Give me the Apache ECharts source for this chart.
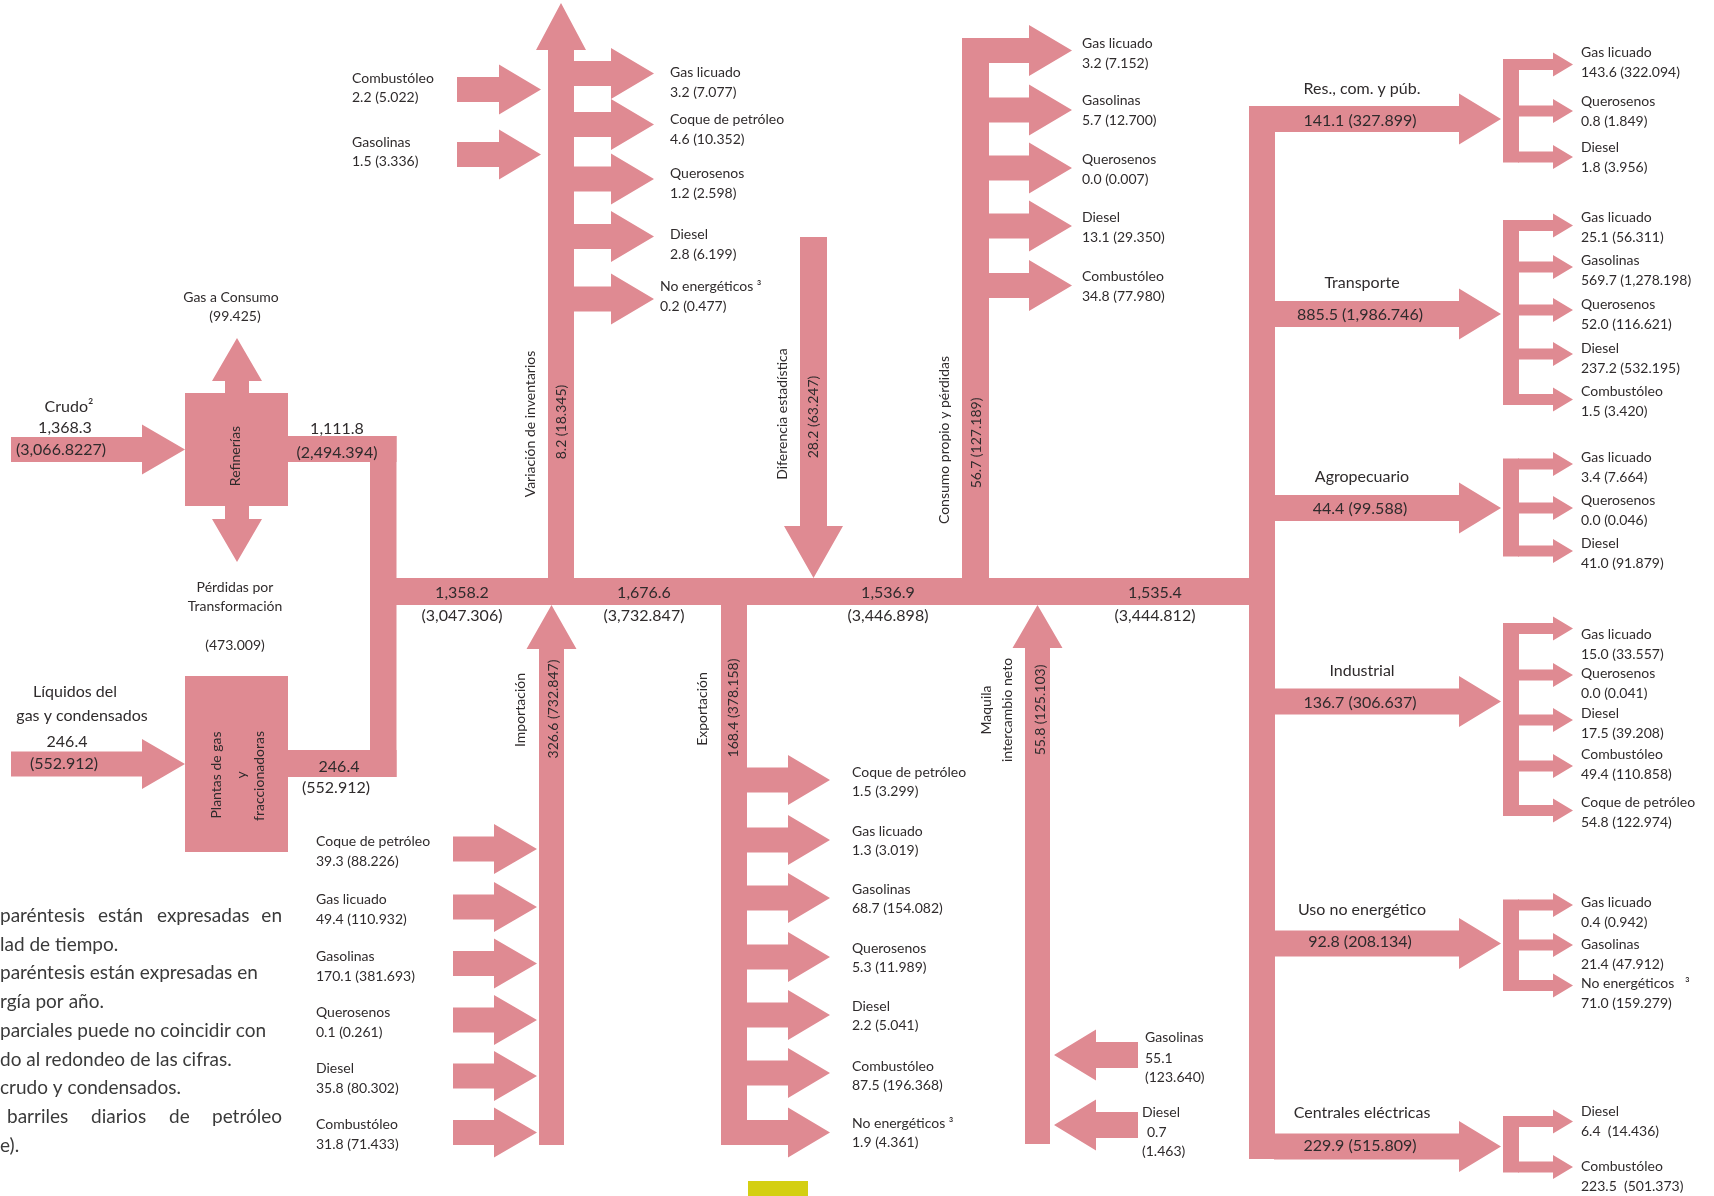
<!DOCTYPE html>
<html>
<head>
<meta charset="utf-8">
<title>Balance de petrolíferos</title>
<script src="https://cdn.jsdelivr.net/npm/echarts@6/dist/echarts.min.js"></script>
<style>
  html, body { margin: 0; padding: 0; background: #fff; }
  #chart { width: 1714px; height: 1196px; }
</style>
</head>
<body>
<div id="chart"></div>
<script>
// flujos: valor en miles de barriles diarios y (petajoules)
const crudoText = ['Crudo²', '1,368.3', '(3,066.8227)']
const liquidosText = ['Líquidos del', 'gas y condensados', '246.4', '(552.912)']
const gasConsumoText = ['Gas a Consumo', '(99.425)']
const perdidasText = ['Pérdidas por', 'Transformación', '(473.009)']
const refineriaOut = ['1,111.8', '(2,494.394)']
const plantasOut = ['246.4', '(552.912)']

const mainBand = [
  ['1,358.2', '(3,047.306)'],
  ['1,676.6', '(3,732.847)'],
  ['1,536.9', '(3,446.898)'],
  ['1,535.4', '(3,444.812)']
]

const varInLabels = ['Combustóleo', 'Gasolinas']
const varInValues = ['2.2 (5.022)', '1.5 (3.336)']
const varOutLabels = ['Gas licuado', 'Coque de petróleo', 'Querosenos', 'Diesel', 'No energéticos ³']
const varOutValues = ['3.2 (7.077)', '4.6 (10.352)', '1.2 (2.598)', '2.8 (6.199)', '0.2 (0.477)']
const consumoLabels = ['Gas licuado', 'Gasolinas', 'Querosenos', 'Diesel', 'Combustóleo']
const consumoValues = ['3.2 (7.152)', '5.7 (12.700)', '0.0 (0.007)', '13.1 (29.350)', '34.8 (77.980)']
const importLabels = ['Coque de petróleo', 'Gas licuado', 'Gasolinas', 'Querosenos', 'Diesel', 'Combustóleo']
const importValues = ['39.3 (88.226)', '49.4 (110.932)', '170.1 (381.693)', '0.1 (0.261)', '35.8 (80.302)', '31.8 (71.433)']
const exportLabels = ['Coque de petróleo', 'Gas licuado', 'Gasolinas', 'Querosenos', 'Diesel', 'Combustóleo', 'No energéticos ³']
const exportValues = ['1.5 (3.299)', '1.3 (3.019)', '68.7 (154.082)', '5.3 (11.989)', '2.2 (5.041)', '87.5 (196.368)', '1.9 (4.361)']
const maquilaLabels = ['Gasolinas', 'Diesel']
const maquilaValues = [['55.1', '(123.640)'], ['0.7', '(1.463)']]

// flujos verticales: nombre y valor
const vertNames = [['Variación de inventarios'], ['Diferencia estadística'], ['Consumo propio y pérdidas'],
  ['Importación'], ['Exportación'], ['Maquila', 'intercambio neto']]
const vertValues = ['8.2 (18.345)', '28.2 (63.247)', '56.7 (127.189)', '326.6 (732.847)', '168.4 (378.158)', '55.8 (125.103)']

const sectors = ['Res., com. y púb.', 'Transporte', 'Agropecuario', 'Industrial', 'Uso no energético', 'Centrales eléctricas']
const sectorValues = ['141.1 (327.899)', '885.5 (1,986.746)', '44.4 (99.588)', '136.7 (306.637)', '92.8 (208.134)', '229.9 (515.809)']
const sectorFuels = [
  ['Gas licuado', 'Querosenos', 'Diesel'],
  ['Gas licuado', 'Gasolinas', 'Querosenos', 'Diesel', 'Combustóleo'],
  ['Gas licuado', 'Querosenos', 'Diesel'],
  ['Gas licuado', 'Querosenos', 'Diesel', 'Combustóleo', 'Coque de petróleo'],
  ['Gas licuado', 'Gasolinas', 'No energéticos   ³'],
  ['Diesel', 'Combustóleo']
]
const sectorFuelValues = [
  ['143.6 (322.094)', '0.8 (1.849)', '1.8 (3.956)'],
  ['25.1 (56.311)', '569.7 (1,278.198)', '52.0 (116.621)', '237.2 (532.195)', '1.5 (3.420)'],
  ['3.4 (7.664)', '0.0 (0.046)', '41.0 (91.879)'],
  ['15.0 (33.557)', '0.0 (0.041)', '17.5 (39.208)', '49.4 (110.858)', '54.8 (122.974)'],
  ['0.4 (0.942)', '21.4 (47.912)', '71.0 (159.279)'],
  ['6.4  (14.436)', '223.5  (501.373)']
]

const notes = ['paréntesis  están  expresadas  en', 'lad de tiempo.', 'paréntesis están expresadas en', 'rgía por año.',
  'parciales puede no coincidir con', 'do al redondeo de las cifras.', 'crudo y condensados.',
  'barriles  diarios  de  petróleo', 'e).']

// --- layout (pixeles del lienzo) ---
const varInY = [89.5, 154.5]
const varOutY = [73.5, 124.5, 179, 236.5, 299]
const consumoY = [50.5, 110, 168, 226, 285.5]
const importY = [849, 907, 963.5, 1020, 1076, 1132.5]
const exportY = [780, 840, 898, 957, 1015, 1073, 1132.5]
const maquilaY = [1055, 1125]
const sectorY = [119, 314, 508, 701.5, 943.5, 1146.5]
const subY = [
  [64.5, 111, 157],
  [225.5, 267, 310, 354, 399.5],
  [464, 508, 551],
  [628.5, 675, 720, 766, 810.5],
  [905, 945, 985.5],
  [1121.5, 1167]
]
const varInTextY = [78, 142]
const varOutTextY = [72, 119, 173, 234, 286]
const consumoTextY = [43, 100, 159, 217, 276]
const importTextY = [841, 899, 956, 1012, 1068, 1124]
const exportTextY = [772, 831, 889, 948, 1006, 1066, 1123]
const sectorTextY = [[89, 121], [283, 315], [477, 509], [671, 703], [910, 942], [1113, 1146]]
const subTextY = [
  [52, 101, 147],
  [217, 260, 304, 348, 391],
  [457, 500, 543],
  [634, 673, 713, 754, 802],
  [902, 944, 983],
  [1111, 1166]
]
const mainBandX = [462, 644, 888, 1155]
const vertX = [[530, 561], [782, 813], [944, 976], [520, 553], [702, 733], [[986, 1007], 1040]]
const vertY = [[424, 422], [414, 417], [440, 443], [710, 709], [709, 708], [710, 710]]
const noteY = [916, 945, 973, 1002, 1031, 1060, 1088, 1117, 1146]

const PINK = '#df8a92'
const INK = '#2f2b2c'
const FONT = 'Lato, "Open Sans", sans-serif'

let shapes = []
let texts = []

let box = (x1, y1, x2, y2, color) => {
  shapes.push({ pts: [[x1, y1], [x2, y1], [x2, y2], [x1, y2]], color: color || PINK })
}
// flecha horizontal: cola x0, inicio de punta xh, punta xt
let arrowH = (x0, xh, xt, yc, sw, hw) => {
  shapes.push({ pts: [[x0, yc - sw / 2], [xh, yc - sw / 2], [xh, yc - hw / 2], [xt, yc],
    [xh, yc + hw / 2], [xh, yc + sw / 2], [x0, yc + sw / 2]], color: PINK })
}
let arrowV = (y0, yh, yt, xc, sw, hw) => {
  shapes.push({ pts: [[xc - sw / 2, y0], [xc - sw / 2, yh], [xc - hw / 2, yh], [xc, yt],
    [xc + hw / 2, yh], [xc + sw / 2, yh], [xc + sw / 2, y0]], color: PINK })
}
let txt = (x, y, text, size, align, rot, color) => {
  texts.push({ x, y, text, size: size || 14, align: align || 'left', rot: rot || 0, color: color || INK })
}

// entradas y centros de transformación
arrowH(11, 142, 185, 449.5, 25, 50)
box(185, 393, 288, 506)
arrowV(394, 381, 338, 237, 24, 50)
arrowV(505, 519, 562, 237, 24, 50)
box(287, 436, 396.5, 462)
box(370, 436, 396.5, 777)
arrowH(11, 142, 185, 764, 25, 50)
box(185, 676, 288, 852)
box(287, 750, 396.5, 777)
box(370, 578, 1262, 605)

// variación de inventarios
arrowV(579, 50, 3, 561, 26, 50)
varInY.forEach(y => arrowH(457, 499, 541, y, 25, 50))
varOutY.forEach(y => arrowH(573, 611, 654, y, 25, 51))
// diferencia estadística
arrowV(237, 526, 578, 813.5, 27, 59)
// consumo propio
box(962, 38, 989, 579)
consumoY.forEach(y => arrowH(988, 1029, 1072, y, 25, 51))
// importación
arrowV(1145, 649, 605, 551.5, 25, 50)
importY.forEach(y => arrowH(453, 494, 537, y, 25, 50))
// exportación
box(721, 604, 747, 1145)
exportY.forEach(y => arrowH(746, 788, 830, y, 25, 50))
// maquila
arrowV(1144, 648, 605, 1037.5, 25, 50)
maquilaY.forEach(y => arrowH(1138, 1096, 1054, y, 26, 51))

// consumo final
box(1249, 106, 1275, 1159)
sectorY.forEach(y => arrowH(1274, 1459, 1501, y, 26, 51))
subY.forEach(ys => {
  box(1503, ys[0] - 5.5, 1519, ys[ys.length - 1] + 5.5)
  ys.forEach(y => arrowH(1518, 1553, 1573, y, 11, 24))
})
box(748, 1181, 808, 1196, '#d4cf12')

// textos
txt(69, 407, crudoText[0], 16, 'center')
txt(65, 428, crudoText[1], 16, 'center')
txt(61, 450, crudoText[2], 16, 'center')
txt(75, 692, liquidosText[0], 16, 'center')
txt(82, 716, liquidosText[1], 16, 'center')
txt(67, 742, liquidosText[2], 16, 'center')
txt(64, 764, liquidosText[3], 16, 'center')
txt(231, 297, gasConsumoText[0], 14, 'center')
txt(235, 316, gasConsumoText[1], 14, 'center')
txt(235, 587, perdidasText[0], 14, 'center')
txt(235, 606, perdidasText[1], 14, 'center')
txt(235, 645, perdidasText[2], 14, 'center')
txt(235, 456, 'Refinerías', 14, 'center', 90)
txt(216, 775, 'Plantas de gas', 14, 'center', 90)
txt(241, 775, 'y', 14, 'center', 90)
txt(259, 776, 'fraccionadoras', 14, 'center', 90)
txt(337, 429, refineriaOut[0], 16, 'center')
txt(337, 453, refineriaOut[1], 16, 'center')
txt(339, 767, plantasOut[0], 16, 'center')
txt(336, 788, plantasOut[1], 16, 'center')

mainBand.forEach((v, i) => {
  txt(mainBandX[i], 593, v[0], 16, 'center')
  txt(mainBandX[i], 616, v[1], 16, 'center')
})

vertNames.forEach((names, i) => {
  let nx = Array.isArray(vertX[i][0]) ? vertX[i][0] : [vertX[i][0]]
  names.forEach((n, k) => txt(nx[k], vertY[i][0], n, 14, 'center', 90))
  txt(vertX[i][1], vertY[i][1], vertValues[i], 14, 'center', 90)
})

varInLabels.forEach((l, i) => {
  txt(352, varInTextY[i], l)
  txt(352, varInTextY[i] + 19.5, varInValues[i])
})
varOutLabels.forEach((l, i) => {
  let x = i === 4 ? 660 : 670
  txt(x, varOutTextY[i], l)
  txt(x, varOutTextY[i] + 20, varOutValues[i])
})
consumoLabels.forEach((l, i) => {
  txt(1082, consumoTextY[i], l)
  txt(1082, consumoTextY[i] + 20, consumoValues[i])
})
importLabels.forEach((l, i) => {
  txt(316, importTextY[i], l)
  txt(316, importTextY[i] + 20, importValues[i])
})
exportLabels.forEach((l, i) => {
  txt(852, exportTextY[i], l)
  txt(852, exportTextY[i] + 19.5, exportValues[i])
})
txt(1145, 1037, maquilaLabels[0])
txt(1145, 1058, maquilaValues[0][0])
txt(1145, 1077, maquilaValues[0][1])
txt(1142, 1112, maquilaLabels[1])
txt(1147, 1132, maquilaValues[1][0])
txt(1142, 1151, maquilaValues[1][1])

sectors.forEach((s, i) => {
  txt(1362, sectorTextY[i][0], s, 16, 'center')
  txt(1360, sectorTextY[i][1], sectorValues[i], 16, 'center')
  sectorFuels[i].forEach((f, k) => {
    txt(1581, subTextY[i][k], f)
    txt(1581, subTextY[i][k] + 20, sectorFuelValues[i][k])
  })
})

// notas (cortadas en el borde izquierdo)
notes.forEach((line, i) => {
  let words = line.split(/\s{2,}/)
  if (words.length > 1) {
    // renglón justificado
    let xs = i === 0 ? [0, 98, 157, 282] : [7, 91, 169, 282]
    words.forEach((w, k) => txt(xs[k], noteY[i], w, 19, k === words.length - 1 ? 'right' : 'left', 0, '#3a3a3a'))
  } else {
    txt(0, noteY[i], line, 19, 'left', 0, '#3a3a3a')
  }
})

let chart = echarts.init(document.getElementById('chart'))
let option = {
  animation: false,
  grid: { left: 0, right: 0, top: 0, bottom: 0 },
  xAxis: { type: 'value', min: 0, max: 1714, show: false },
  yAxis: { type: 'value', min: 0, max: 1196, inverse: true, show: false },
  series: [
    {
      type: 'custom',
      silent: true,
      clip: false,
      data: shapes.map(s => s.pts[0]),
      renderItem: (params, api) => {
        let s = shapes[params.dataIndex]
        return {
          type: 'polygon',
          shape: { points: s.pts.map(p => api.coord(p)) },
          style: { fill: s.color }
        }
      }
    },
    {
      type: 'custom',
      silent: true,
      clip: false,
      data: texts.map(t => [t.x, t.y]),
      renderItem: (params, api) => {
        let t = texts[params.dataIndex]
        let p = api.coord([t.x, t.y])
        return {
          type: 'text',
          x: p[0],
          y: p[1],
          rotation: t.rot * Math.PI / 180,
          style: {
            text: t.text,
            fill: t.color,
            font: t.size + 'px ' + FONT,
            align: t.align,
            verticalAlign: 'middle'
          }
        }
      }
    }
  ]
}
chart.setOption(option)
</script>
</body>
</html>
